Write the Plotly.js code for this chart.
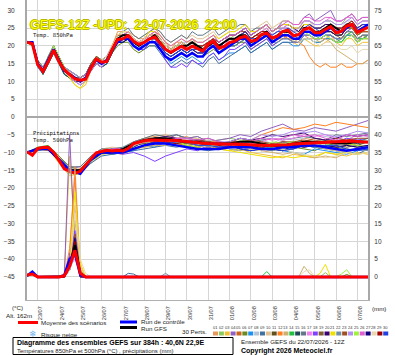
<!DOCTYPE html>
<html><head><meta charset="utf-8">
<script src="https://cdn.plot.ly/plotly-3.0.1.min.js"></script>
<style>html,body{margin:0;padding:0;background:#fff}#c{width:395px;height:355px}</style>
</head><body><div id="c"></div>
<script>
// ---------- DATA ----------
const runStartUTC = [2026, 6, 22, 12]; // 22/07/2026 12Z
const stepHours = 6;
const nSteps = 65;

const mean850 = [21.0,20.6,14.7,12.8,15.6, 18.8,15.6,13.3,11.9,10.7, 10.3,10.6,13.8,16.3,15.4, 15.6,19.0,21.8,22.0,22.9, 21.3,20.4,21.0,22.0,22.5, 20.8,19.0,18.2,19.0,19.9, 19.0,19.9,19.2,18.6,20.4, 21.3,19.4,19.8,20.9,21.3, 22.3,22.7,21.3,21.6,23.2, 23.6,22.2,22.7,24.1,24.4, 22.8,23.2,24.6,25.1,23.7, 23.7,24.6,25.4,23.7,24.1, 25.6,26.0,23.8,24.5,25.2];
const ctrl850 = [21,21,15,13,16, 19,16,13,12,11, 10,11,14,16,15, 16,19,21,22,22, 20,19,20,21,21, 19,17,16,17,18, 17,18,17,17,19, 20,18,19,20,21, 22,22,20,21,22, 23,21,22,23,23, 22,22,24,24,23, 23,24,25,24,24, 25,26,24,25,26];
const gfs850 = [21,21,15,13,16, 19,16,13,12,11, 10,11,14,16,15, 16,19,22,23,23, 21,20,21,22,23, 21,19,18,19,20, 20,21,20,19,20, 21,20,21,22,22, 23,23,21,22,23, 24,22,23,24,24, 23,23,25,25,24, 24,25,26,25,24, 26,26,24,25,25];

const p850_01 = [21,21,15,12,16, 20,16,13,13,11, 11,12,14,17,16, 16,20,24,24,24, 23,22,22,24,25, 23,21,19,21,21, 20,22,20,19,21, 21,20,20,20,21, 22,22,21,21,23, 23,22,22,22,23, 21,22,23,22,22, 22,22,23,21,22, 23,24,21,23,22];
const p850_02 = [21,20,14,13,15, 18,15,12,11,10, 9,10,13,15,14, 15,18,21,21,22, 20,19,20,21,21, 20,18,17,18,19, 19,20,20,20,21, 22,20,21,22,23, 24,25,23,24,25, 26,24,25,26,26, 25,25,27,27,26, 26,27,27,26,26, 28,28,26,27,27];
const p850_03 = [21,21,16,13,16, 19,15,12,11,9, 8,9,13,16,15, 16,19,22,23,23, 22,21,21,22,23, 21,20,19,20,21, 20,21,19,18,19, 21,19,19,21,22, 22,23,21,22,22, 23,21,22,23,22, 21,20,22,21,20, 20,21,22,21,20, 22,22,20,21,21];
const p850_04 = [21,21,15,14,16, 19,16,14,13,12, 11,12,14,16,15, 16,19,21,22,22, 21,20,21,23,23, 22,20,19,20,21, 20,21,20,20,21, 22,20,21,23,23, 24,25,23,24,25, 26,24,25,27,27, 26,26,28,29,27, 28,29,30,27,27, 28,29,27,28,28];
const p850_05 = [21,21,15,13,17, 20,17,14,12,11, 10,11,15,17,16, 17,20,23,23,24, 22,21,22,23,24, 22,20,19,20,21, 20,21,20,20,21, 22,20,21,22,22, 23,24,22,23,24, 25,23,24,25,25, 24,24,26,26,25, 25,26,26,25,25, 26,27,25,26,26];
const p850_06 = [21,20,15,12,15, 18,15,12,11,10, 10,11,13,15,14, 15,18,20,21,21, 19,18,19,20,20, 19,17,16,17,18, 17,18,17,17,18, 19,18,19,20,20, 21,21,19,20,21, 22,20,21,22,22, 21,21,22,22,21, 21,22,22,21,21, 23,23,21,22,22];
const p850_07 = [21,21,14,12,15, 18,15,12,11,10, 9,10,13,15,14, 15,18,21,21,22, 20,19,19,21,21, 19,17,15,16,17, 16,17,16,15,17, 18,16,17,18,18, 19,20,18,19,20, 21,19,20,21,21, 20,20,22,22,21, 21,22,22,21,21, 23,23,21,22,23];
const p850_08 = [21,21,15,13,16, 19,16,14,13,12, 11,12,15,17,16, 17,20,22,23,23, 22,21,22,23,23, 22,20,19,20,21, 21,22,21,21,22, 23,21,22,23,23, 24,24,22,23,24, 25,23,24,25,25, 24,24,26,26,25, 25,26,26,25,25, 27,27,25,26,26];
const p850_09 = [21,21,15,13,16, 19,16,13,12,11, 10,11,14,16,15, 16,19,21,22,22, 20,19,19,20,20, 18,16,14,15,16, 15,16,15,14,16, 17,15,16,17,18, 19,20,18,19,20, 21,19,20,21,21, 21,21,23,23,22, 22,23,23,22,22, 24,24,22,23,23];
const p850_10 = [21,21,16,14,16, 19,16,13,12,11, 10,11,14,16,16, 17,20,23,24,24, 23,22,23,24,25, 24,22,21,22,23, 22,23,22,22,23, 24,22,23,24,24, 25,26,24,25,26, 27,25,26,27,27, 26,26,27,27,25, 25,26,26,25,24, 26,26,24,25,25];
const p850_11 = [21,21,15,13,16, 19,16,13,12,11, 11,12,14,16,15, 16,19,22,22,23, 21,20,21,22,22, 21,19,18,19,20, 19,20,19,19,20, 21,19,20,21,21, 21,22,20,21,22, 23,21,22,23,23, 22,22,24,24,23, 23,24,24,23,23, 25,25,23,24,24];
const p850_12 = [21,21,15,13,16, 19,16,13,12,11, 10,11,14,16,15, 16,19,22,23,23, 22,21,22,23,23, 22,20,19,20,21, 20,21,20,20,21, 22,20,21,22,22, 23,24,22,23,24, 24,22,23,23,22, 22,21,20,17,15, 14,15,14,14,15, 14,14,15,15,16];
const p850_13 = [21,21,15,13,16, 19,16,14,12,11, 11,12,14,16,15, 16,19,22,22,22, 21,20,21,22,22, 21,19,18,19,20, 19,20,19,19,20, 21,19,20,21,21, 22,22,21,22,22, 23,21,22,23,23, 22,22,23,23,22, 21,22,21,19,18, 17,16,15,15,16];
const p850_14 = [21,21,15,13,17, 20,17,14,13,12, 11,12,15,17,16, 17,20,22,23,23, 22,21,21,22,23, 22,20,19,20,20, 20,21,20,20,21, 22,20,21,22,22, 23,23,21,22,23, 23,21,22,23,23, 22,22,24,24,23, 22,23,23,22,21, 23,24,22,22,23];
const p850_15 = [21,21,15,12,15, 18,15,12,11,10, 10,11,13,15,14, 15,18,21,21,22, 20,19,20,21,22, 20,18,17,18,19, 18,19,18,18,19, 20,18,19,20,20, 21,22,20,21,22, 23,21,22,23,23, 22,22,24,24,23, 23,24,24,23,23, 25,25,23,24,24];
const p850_16 = [21,21,16,14,17, 20,17,14,13,12, 11,12,15,17,16, 17,20,23,24,25, 23,22,23,24,25, 24,22,21,22,23, 22,24,23,23,24, 25,23,24,25,25, 26,26,24,25,25, 26,24,25,25,26, 25,24,26,26,25, 25,26,26,25,25, 26,26,25,26,26];
const p850_17 = [21,21,15,13,16, 19,16,13,11,10, 9,10,13,15,14, 16,19,22,22,23, 21,20,21,22,22, 21,19,18,19,19, 19,20,19,19,20, 21,19,20,22,22, 23,24,22,23,24, 25,23,24,25,26, 25,25,27,27,26, 26,27,28,27,27, 28,28,26,27,27];
const p850_18 = [21,21,15,13,16, 19,16,13,12,11, 10,11,14,16,15, 16,19,22,22,22, 20,19,19,21,21, 19,16,14,14,15, 14,16,15,15,17, 18,16,17,19,19, 20,21,19,20,21, 22,20,21,22,22, 21,21,23,23,22, 22,23,23,22,22, 24,25,23,24,24];
const p850_19 = [21,21,15,13,16, 19,16,13,12,11, 11,12,14,16,15, 16,19,22,23,23, 21,20,21,22,23, 21,19,18,19,20, 19,20,19,20,21, 22,20,21,22,22, 23,24,22,23,23, 24,22,23,23,24, 23,22,24,24,23, 23,24,24,23,22, 24,24,22,23,23];
const p850_20 = [21,21,15,13,16, 19,16,13,12,11, 10,11,14,16,15, 16,19,21,22,22, 21,20,21,22,22, 21,19,18,19,20, 20,21,20,20,21, 22,21,22,23,23, 24,25,23,24,25, 26,24,25,26,26, 25,24,26,26,25, 25,26,26,24,24, 26,26,24,25,25];
const p850_21 = [21,21,15,13,16, 19,16,13,11,9, 8,10,14,16,15, 16,20,23,24,24, 22,21,22,24,24, 23,21,20,21,22, 21,22,21,21,22, 23,22,23,24,24, 25,26,24,24,25, 26,24,25,26,26, 25,25,26,26,24, 24,25,25,23,23, 25,25,23,24,24];
const p850_22 = [21,21,15,13,16, 18,15,13,12,11, 10,11,14,15,15, 16,19,22,22,23, 21,20,21,22,22, 21,19,18,19,20, 19,19,18,18,19, 20,18,19,20,20, 21,22,20,21,22, 23,21,21,22,22, 21,21,23,23,22, 22,23,23,22,22, 24,24,22,23,23];
const p850_23 = [21,21,15,13,16, 19,16,13,12,11, 11,12,15,17,16, 17,20,23,23,24, 22,21,22,23,23, 22,20,19,20,21, 20,21,20,20,21, 22,21,22,23,23, 24,24,22,23,23, 24,22,23,24,24, 23,23,25,25,24, 24,25,25,24,23, 25,25,23,24,24];
const p850_24 = [21,21,15,13,16, 19,16,14,13,12, 11,12,14,16,15, 16,19,22,22,23, 21,20,20,21,22, 20,18,17,18,19, 18,19,18,18,19, 20,19,20,21,21, 22,23,21,22,23, 24,23,24,25,25, 24,25,27,27,26, 26,27,27,26,26, 27,28,26,27,27];
const p850_25 = [21,21,15,13,16, 20,17,14,12,11, 10,11,14,16,15, 16,19,22,22,23, 21,20,21,22,22, 21,19,18,19,20, 19,20,19,19,20, 21,19,20,21,21, 22,23,21,22,22, 23,22,22,23,23, 22,22,24,23,22, 22,23,22,21,21, 22,23,21,22,22];
const p850_26 = [21,21,15,13,16, 19,16,13,12,11, 10,11,14,16,15, 16,19,22,23,24, 22,21,22,23,24, 23,21,20,21,22, 21,22,21,21,22, 23,21,22,23,23, 24,25,23,24,25, 26,24,25,26,27, 26,26,28,28,27, 27,28,28,27,27, 28,29,27,28,28];
const p850_27 = [21,21,15,13,16, 19,16,13,12,11, 10,11,14,16,15, 16,19,21,21,22, 20,19,20,21,21, 20,18,17,18,19, 18,19,18,18,19, 20,19,20,21,21, 22,22,20,21,22, 23,21,22,23,23, 22,22,24,24,23, 23,24,24,23,23, 25,26,24,25,25];
const p850_28 = [21,21,15,13,16, 19,16,13,12,11, 10,11,14,16,16, 17,20,23,24,24, 22,21,22,23,23, 22,20,19,20,21, 20,21,20,20,21, 22,20,21,22,22, 23,23,21,22,23, 24,22,23,24,23, 22,21,22,22,21, 20,21,21,20,19, 19,20,18,19,19];
const p850_29 = [21,21,15,13,16, 19,16,13,12,11, 10,11,14,16,15, 16,19,22,22,23, 21,20,21,22,23, 21,19,18,19,20, 19,20,20,20,21, 22,20,21,22,22, 23,24,22,23,24, 24,22,23,24,24, 23,23,25,25,24, 24,25,26,25,25, 26,27,25,26,26];
const p850_30 = [21,21,15,13,16, 19,16,13,12,11, 10,11,14,16,15, 16,19,22,22,23, 21,20,21,22,22, 20,18,17,18,19, 18,19,19,18,20, 20,19,21,22,22, 23,24,22,22,23, 24,23,24,24,25, 24,23,25,26,25, 24,25,26,25,24, 25,26,25,26,26];

const mean500 = [-9.8,-10.8,-8.9,-8.6,-8.6, -9.9,-12.2,-14.6,-15.3,-15.8, -15.3,-13.6,-11.7,-10.1,-9.7, -9.4,-9.6,-9.4,-9.6,-8.9, -7.5,-7.0,-6.7,-6.5,-6.5, -6.4,-6.4,-6.5,-6.6,-6.8, -7.0,-7.1,-7.2,-7.4,-7.5, -7.6,-7.7,-7.8,-7.7,-7.6, -7.6,-7.7,-7.8,-7.9,-8.0, -8.0,-8.0,-7.9,-7.9,-7.8, -7.6,-7.5,-7.4,-7.3,-7.3, -7.2,-7.2,-7.1,-7.0,-6.9, -6.8,-6.8,-6.9,-7.0,-7.1];
// 12-hourly
const ctrl500 = [-10,-9,-9,-12,-15,-16,-12,-10,-10,-10,-9,-8,-7.5,-7.5,-8,-8.5,-9,-9,-9,-8.5,-8.5,-8.5,-9,-9,-8.5,-8.5,-8,-8,-8.5,-9,-9.5,-9,-8.5];
const gfs500 = [-10,-9,-9,-12,-15,-15,-12,-10,-10,-9,-7.5,-6.5,-6,-6,-6.5,-7,-7,-7.5,-7.5,-7.5,-7,-7,-7.5,-8,-8,-7.5,-7,-7,-7,-7.5,-7.5,-7,-7];

const p500_01 = [-10,-9.5,-8.5,-12,-15.5,-14.5,-11.5,-10,-9,-9.5,-7,-6,-5.5,-5,-6,-5.5,-7,-6.5,-8,-7.5,-7,-6.5,-8,-7.5,-7,-7.5,-6,-6.5,-7,-6.5,-8,-7.5,-7];
const p500_02 = [-10,-9,-9,-12.5,-16,-16,-12.5,-10.5,-10,-9,-8.5,-7,-6,-6.5,-5,-6,-5.5,-7,-6.5,-6,-6.5,-7,-7.5,-8,-8.5,-9,-8,-8.5,-7,-7.5,-6,-6.5,-7];
const p500_03 = [-10,-9,-9,-13,-16.5,-16,-13,-10.5,-10,-10.5,-9,-8.5,-8,-7,-7.5,-8,-8.5,-8,-9,-9.5,-9,-10,-10.5,-11,-11.5,-10.5,-11,-11.5,-10,-10.5,-11,-10,-10.5];
const p500_04 = [-10,-9,-9,-11.5,-14.5,-14,-11,-9,-9.5,-9,-7,-6.5,-6,-6.5,-5,-6,-5.5,-7,-6.5,-6,-5,-5.5,-4,-3,-2,-3.5,-4,-3,-3.5,-4,-3,-2,-1];
const p500_05 = [-10,-9,-9.5,-12,-15,-15.5,-12,-10,-10.5,-10,-9,-8,-7.5,-7,-7.5,-8,-8.5,-8,-9,-8,-8.5,-8,-9,-9.5,-8,-8.5,-7,-6,-6.5,-7,-7.5,-8,-8.5];
const p500_06 = [-10,-8.5,-8,-11,-14,-15,-12,-9.5,-9,-9.5,-8,-7,-6,-6.5,-6,-7,-7.5,-7,-8,-8.5,-8,-9,-9.5,-8.5,-8,-8.5,-9,-9.5,-8,-8.5,-9,-9.5,-8];
const p500_07 = [-10,-9,-9,-12.5,-15.5,-16,-12.5,-10,-10.5,-10,-9.5,-8,-8.5,-7,-7.5,-7,-8,-8.5,-8,-9,-9.5,-8.5,-8,-9,-9.5,-10,-10.5,-9,-9.5,-10,-10.5,-9.5,-9];
const p500_08 = [-10,-9,-9,-12,-14.5,-15,-12,-10,-9,-9,-8,-7.5,-6,-6.5,-6,-6.5,-7,-6.5,-7.5,-7,-6,-7,-6.5,-7.5,-6,-6.5,-6,-5,-5.5,-6,-6.5,-5,-5.5];
const p500_09 = [-10,-9.5,-9,-12,-15,-16,-13,-11,-10.5,-10,-9.5,-9,-8.5,-8,-8.5,-8,-9,-9.5,-9,-8,-8.5,-8,-8.5,-9,-9.5,-9,-8,-8.5,-9,-9.5,-10,-10.5,-9];
const p500_10 = [-10,-9,-9,-12,-15,-15,-11,-9,-8.5,-9,-7,-6,-5,-5.5,-6,-6.5,-6,-7,-7.5,-8,-8.5,-8,-9,-9.5,-9,-8,-8.5,-8,-9,-9.5,-10,-9,-9.5];
const p500_11 = [-10,-9,-9,-12,-15,-15,-12,-10,-10,-9,-8,-7.5,-7,-7.5,-7,-7,-8,-8.5,-8,-8,-8.5,-8,-7.5,-8,-8.5,-7,-7.5,-7,-7.5,-8,-8.5,-8,-7];
const p500_12 = [-10,-9,-9,-12,-15,-15,-12,-10,-9,-9.5,-8,-7,-6,-6.5,-6,-7,-7.5,-7,-7,-7.5,-6,-6.5,-5,-4,-3,-3.5,-3,-2,-2.5,-1.5,-2,-2.5,-3];
const p500_13 = [-10,-9,-9,-12,-15,-15,-12,-10,-10,-10,-9,-8.5,-8,-8,-7,-7.5,-8,-8.5,-8,-9,-9.5,-9,-9.5,-10,-10.5,-10,-11,-11.5,-11,-11.5,-10,-10.5,-10];
const p500_14 = [-10,-9,-9,-12,-15,-15,-12,-10,-9,-9,-8,-7,-6,-6,-7,-7.5,-7,-8,-8.5,-7,-7.5,-7,-8,-8.5,-7,-7.5,-7,-8,-8.5,-7,-7.5,-7,-6];
const p500_15 = [-10,-9,-9,-12,-15,-15,-12,-10,-10,-10,-8.5,-7,-7,-6,-6.5,-7,-7.5,-8,-8.5,-8,-7,-8,-8.5,-8,-8,-7,-7.5,-7,-7,-7.5,-7,-7.5,-7];
const p500_16 = [-10,-9,-9,-11.5,-14,-14,-11,-9,-9,-8.5,-7,-6,-5,-5.5,-5,-6,-6.5,-6,-7,-7.5,-7,-7,-6.5,-6,-6.5,-6,-5.5,-6,-6.5,-5,-5.5,-5,-4.5];
const p500_17 = [-10,-9,-9,-12,-15,-15,-12,-10,-10,-9,-8,-7,-7,-7.5,-7,-6.5,-7,-7.5,-8,-8.5,-7,-7.5,-7,-6,-6.5,-6,-5,-5.5,-5,-6,-6.5,-5,-5.5];
const p500_18 = [-10,-9,-9,-12,-15,-15,-12,-10,-10,-10.5,-10,-11,-12.5,-11,-10,-9,-9.5,-8,-8.5,-8,-8,-8.5,-8,-8,-7,-7.5,-7,-7.5,-7,-7,-6,-6.5,-6];
const p500_19 = [-10,-9,-9,-12,-15,-15,-12,-10,-10,-10,-9,-8,-7,-7.5,-7,-7.5,-8,-8.5,-8,-8.5,-8,-8.5,-8,-8,-8.5,-8,-8.5,-8,-8,-8.5,-8,-8.5,-8];
const p500_20 = [-10,-9,-9,-12,-15,-15,-12,-10,-9,-9,-8,-7,-6,-5.5,-6,-7,-6.5,-7,-7.5,-7,-6,-6.5,-6,-5,-5.5,-5,-4.5,-6,-6.5,-6,-5,-5.5,-5];
const p500_21 = [-10,-9,-9,-12,-15,-15,-12,-10,-10,-10,-8,-7,-7,-7.5,-7,-8,-8.5,-8,-9,-9.5,-10,-10.5,-11,-11.5,-11,-11.5,-11,-11,-10,-10.5,-10,-10.5,-10];
const p500_22 = [-10,-9,-9,-12,-15,-15,-12,-10,-10,-9,-8,-7,-7,-6,-6.5,-7,-7.5,-7,-8,-8.5,-8,-8.5,-9,-9.5,-9,-9,-8,-8.5,-8,-9,-9.5,-9,-9.5];
const p500_23 = [-10,-9,-9,-12,-15,-15,-12,-10,-10,-9,-8,-7,-7,-7.5,-7,-7,-6.5,-7,-7.5,-7,-7,-6.5,-7,-7.5,-7,-7,-6.5,-7,-7.5,-6,-6.5,-6,-6];
const p500_24 = [-10,-9,-9,-12,-15,-15,-12,-10,-9,-9,-8,-7,-6,-6.5,-6,-6,-7,-7.5,-7,-7,-6,-6.5,-5,-5.5,-5,-4,-4.5,-4,-5,-5.5,-5,-4,-4.5];
const p500_25 = [-10,-9,-9,-12,-15,-15,-12,-10,-10,-10,-9,-8,-7,-7.5,-7,-8,-8.5,-8,-8,-8.5,-8,-8,-8.5,-7,-7.5,-7,-8,-8.5,-8,-7,-7.5,-8,-8.5];
const p500_26 = [-10,-9,-9,-12,-15,-15,-12,-10,-9,-9,-8,-7,-6,-6.5,-6,-6,-6.5,-6,-7,-7.5,-7,-7,-6,-6.5,-6,-5,-5.5,-5,-6,-6.5,-5,-5.5,-5];
const p500_27 = [-10,-9,-9,-12,-15,-15,-12,-10,-10,-10,-9,-8,-7,-7.5,-7,-7,-8,-8.5,-8,-8,-9,-9.5,-9,-9,-9.5,-8,-8.5,-8,-8,-8.5,-8,-8.5,-8];
const p500_28 = [-10,-9,-9,-12,-15,-15,-12,-10,-10,-9,-8,-7,-7,-7.5,-7,-7,-8,-8.5,-8,-8,-8.5,-9,-9.5,-9,-9,-10,-10.5,-11,-11.5,-11,-10,-10.5,-10];
const p500_29 = [-10,-9,-9,-12,-15,-15,-12,-10,-10,-10,-9,-8,-7,-7,-7.5,-7,-7,-7.5,-8,-8.5,-8,-8,-8.5,-8,-8,-8.5,-7,-7.5,-7,-7,-7.5,-7,-7];
const p500_30 = [-10,-9,-9,-12,-15,-16,-12,-10,-10,-10,-9,-8,-7,-7.5,-7,-7,-8,-8,-8.5,-8,-9,-9.5,-9,-9,-9.5,-9,-8,-8.5,-8,-8,-9,-9.5,-9];

// precipitation (mm / 6h)
const meanP = [0.5,0.8,0,0,0, 0,0,0.3,3.0,7.5, 1.0,0,0,0,0, 0,0,0,0,0, 0,0,0,0,0, 0,0,0,0,0, 0,0,0,0,0, 0,0,0,0,0, 0,0,0,0,0, 0,0,0,0,0, 0,0,0,0,0, 0,0,0,0,0, 0,0,0,0,0];
const ctrlP = [0.3,1.5,0,0,0, 0,0,0.5,5.0,6.5, 0.5,0,0,0,0, 0,0,0,0,0, 0,0,0,0,0, 0,0,0,0,0, 0,0,0,0,0, 0,0,0,0,0, 0,0,0,0,0, 0,0,0,0,0, 0,0,0,0,0, 0,0,0,0,0, 0,0,0,0,0];
const gfsP = [0.3,1.0,0,0,0, 0,0,0.2,3.0,9.0, 1.0,0,0,0,0, 0,0,0,0,0, 0,0,0,0,0, 0,0,0,0,0, 0,0,0,0,0, 0,0,0,0,0, 0,0,0,0,0, 0,0,0,0,0, 0,0,0,0,0, 0,0,0,0,0, 0,0,0,0,0];
const rainWindow = [6, 12]; // 24/07 00Z .. 25/07 12Z
const pp01=[0,0,6,31,2,0,0], pp02=[0,0,4,9,1,0,0], pp03=[0,0,34,12,0,0,0], pp04=[0,0,40,8,0,0,0], pp05=[0,0,3,11,1,0,0],
      pp06=[0,0,5,8,0,0,0], pp07=[0,0,2,10,2,0,0], pp08=[0,0,3,7,1,0,0], pp09=[0,0,6,12,1,0,0], pp10=[0,0,2,20,3,0,0],
      pp11=[0,0,4,9,0,0,0], pp12=[0,0,8,28,1,0,0], pp13=[0,0,5,16,2,0,0], pp14=[0,0,3,6,1,0,0], pp15=[0,0,2,8,0,0,0],
      pp16=[0,0,4,11,1,0,0], pp17=[0,0,3,5,1,0,0], pp18=[0,0,6,13,1,0,0], pp19=[0,0,2,9,1,0,0], pp20=[0,0,5,10,0,0,0],
      pp21=[0,0,3,24,4,0,0], pp22=[0,0,2,7,1,0,0], pp23=[0,0,4,12,1,0,0], pp24=[0,0,2,6,0,0,0], pp25=[0,0,3,8,1,0,0],
      pp26=[0,0,5,9,1,0,0], pp27=[0,0,3,11,1,0,0], pp28=[0,0,2,18,5,1,0], pp29=[0,0,4,10,0,0,0], pp30=[0,0,3,7,1,0,0];
// small later showers: step indices, values, member number
const bumpIdx = [[44,45,46],[51,52,53,54],[54,55,56,57],[58,59,60,61],[51,52,53,54],[18,19,20,21],[25,26,27],[59,60,61],[55,56,57]];
const bumpVal = [[0,1.5,0],[0,3,1,0],[0,1,3.5,0],[0,0.8,2,0],[0,1.5,2,0],[0,1,0.8,0],[0,1,0],[0,0.7,0],[0,1.2,0]];
const bumpMember = [14,13,21,25,28,9,22,6,2];

const pertColors = ['#e8985a','#8cc860','#f0c030','#9060c0','#c86420','#6a8a20','#2090f0','#b4c4d4','#4070a0','#e0c090',
  '#605020','#ff7f20','#d0b070','#20c040','#204858','#607888','#f080f0','#8040ff','#806030','#380070',
  '#f0e000','#7090a8','#a05020','#b090f0','#a0f040','#e060d0','#100080','#e8d8b0','#a00000','#2040e0'];

const yTicks = [-45,-40,-35,-30,-25,-20,-15,-10,-5,0,5,10,15,20,25,30];
const y2Ticks = [0,5,10,15,20,25,30,35,40,45,50,55,60,65,70,75];

// ---------- BUILD ----------
const pad = n => String(n).padStart(2,'0');
const t0 = Date.UTC(runStartUTC[0], runStartUTC[1], runStartUTC[2], runStartUTC[3]);
const t6 = Array.from({length:nSteps}, (_,i) => { const d = new Date(t0 + i*stepHours*3600e3);
  return d.getUTCFullYear()+'-'+pad(d.getUTCMonth()+1)+'-'+pad(d.getUTCDate())+' '+pad(d.getUTCHours())+':00'; });
const t12 = t6.filter((_,i) => i%2===0);
const tWin = t6.slice(rainWindow[0], rainWindow[1]+1);

const perts850 = [p850_01,p850_02,p850_03,p850_04,p850_05,p850_06,p850_07,p850_08,p850_09,p850_10,p850_11,p850_12,p850_13,p850_14,p850_15,p850_16,p850_17,p850_18,p850_19,p850_20,p850_21,p850_22,p850_23,p850_24,p850_25,p850_26,p850_27,p850_28,p850_29,p850_30];
const perts500 = [p500_01,p500_02,p500_03,p500_04,p500_05,p500_06,p500_07,p500_08,p500_09,p500_10,p500_11,p500_12,p500_13,p500_14,p500_15,p500_16,p500_17,p500_18,p500_19,p500_20,p500_21,p500_22,p500_23,p500_24,p500_25,p500_26,p500_27,p500_28,p500_29,p500_30];
const pertsP = [pp01,pp02,pp03,pp04,pp05,pp06,pp07,pp08,pp09,pp10,pp11,pp12,pp13,pp14,pp15,pp16,pp17,pp18,pp19,pp20,pp21,pp22,pp23,pp24,pp25,pp26,pp27,pp28,pp29,pp30];

const traces = [];
const thin = (x, y, c, ax) => ({x, y, type:'scatter', mode:'lines', yaxis:ax||'y', hoverinfo:'skip',
  line:{color:c, width:1}});
pertsP.forEach((v,k) => traces.push(thin(tWin, v, pertColors[k], 'y2')));
bumpIdx.forEach((ix,k) => traces.push(thin(ix.map(i=>t6[i]), bumpVal[k], pertColors[bumpMember[k]-1], 'y2')));
perts850.forEach((v,k) => traces.push(thin(t6, v, pertColors[k])));
perts500.forEach((v,k) => traces.push(thin(t12, v, pertColors[k])));

const thick = (x, y, c, w, ax) => ({x, y, type:'scatter', mode:'lines', yaxis:ax||'y', hoverinfo:'skip',
  line:{color:c, width:w}});
traces.push(thick(t6, gfsP, '#000000', 2, 'y2'));
traces.push(thick(t6, ctrlP, '#0000ff', 2.5, 'y2'));
traces.push(thick(t6, meanP, '#ff0000', 3, 'y2'));
traces.push(thick(t6, gfs850, '#000000', 2));
traces.push(thick(t6, ctrl850, '#0000ff', 2.5));
traces.push(thick(t6, mean850, '#ff0000', 3));
traces.push(thick(t12, gfs500, '#000000', 2));
traces.push(thick(t12, ctrl500, '#0000ff', 2.5));
traces.push(thick(t6, mean500, '#ff0000', 3));

// ---------- LAYOUT ----------
const L = 27, R = 368, T = 0, B = 300;
const PX = x => (x - L)/(R - L);
const PY = y => (B - y)/(B - T);
const small = {family:'Liberation Sans, Arial, sans-serif', size:6.2, color:'#222'};
const ann = (x, y, text, font, extra) => Object.assign({xref:'paper', yref:'paper', x:PX(x), y:PY(y), text,
  showarrow:false, xanchor:'left', yanchor:'middle', borderpad:0, font}, extra||{});

const annotations = [
  ann(29, 25, 'GEFS-12Z -UPD:  22-07-2026  22:00', {family:'Liberation Sans, Arial, sans-serif', size:12.5, color:'#ffff00',
     shadow:'1px 0 0 #b8b800, -1px 0 0 #b8b800, 0 1px 0 #b8b800, 0 -1px 0 #b8b800'}),
  ann(32, 35, 'Temp. 850hPa', {family:'DejaVu Sans Mono, monospace', size:5.5, color:'#111'}),
  ann(32, 133.5, 'Précipitations', {family:'DejaVu Sans Mono, monospace', size:5.5, color:'#111'}),
  ann(32, 140.5, 'Temp. 500hPa', {family:'DejaVu Sans Mono, monospace', size:5.5, color:'#111'}),
  ann(11, 307, '(°C)', small),
  ann(5, 316, 'Alt. 162m', small),
  ann(371, 308, '(mm)', small),
  ann(40, 322.5, 'Moyenne des scénarios', small),
  ann(140, 321.2, 'Run de contrôle', small),
  ann(140, 328.6, 'Run GFS', small),
  ann(181, 331.8, '30 Perts.', small),
  ann(28, 333.5, '❄', {family:'DejaVu Sans', size:9, color:'#6ab0f0'}),
  ann(40, 334, 'Risque neige', small),
  ann(16, 342.5, 'Diagramme des ensembles GEFS sur 384h : 40,6N 22,9E', {family:'Liberation Sans, Arial, sans-serif', size:7, color:'#000', weight:'bold'}),
  ann(16, 350.5, 'Températures 850hPa et 500hPa (°C) , précipitations (mm)', {family:'Liberation Sans, Arial, sans-serif', size:6, color:'#222'}),
  ann(240, 341, 'Ensemble GEFS du 22/07/2026 - 12Z', small),
  ann(240, 350.5, 'Copyright 2026 Meteociel.fr', {family:'Liberation Sans, Arial, sans-serif', size:7, color:'#000', weight:'bold'})
];
const shapes = [
  {type:'line', xref:'paper', yref:'paper', x0:PX(18), x1:PX(38), y0:PY(322.5), y1:PY(322.5), line:{color:'#ff0000', width:3}},
  {type:'line', xref:'paper', yref:'paper', x0:PX(120), x1:PX(137), y0:PY(322), y1:PY(322), line:{color:'#0000ff', width:3}},
  {type:'line', xref:'paper', yref:'paper', x0:PX(120), x1:PX(137), y0:PY(327.5), y1:PY(327.5), line:{color:'#000000', width:3}},
  {type:'rect', xref:'paper', yref:'paper', x0:PX(13), x1:PX(233), y0:PY(337.5), y1:PY(354.5), line:{color:'#000', width:1}, fillcolor:'rgba(0,0,0,0)'}
];
pertColors.forEach((c,k) => {
  const x0 = 213 + k*5.87;
  shapes.push({type:'rect', xref:'paper', yref:'paper', x0:PX(x0), x1:PX(x0+5), y0:PY(335.5), y1:PY(331.5), line:{width:0}, fillcolor:c});
  annotations.push({xref:'paper', yref:'paper', x:PX(x0+2.5), y:PY(327.5), text:pad(k+1), showarrow:false, borderpad:0,
    xanchor:'center', yanchor:'middle', font:{family:'Liberation Sans, Arial, sans-serif', size:4, color:'#333'}});
});

const tickFont = {family:'Liberation Sans, Arial, sans-serif', size:6.5, color:'#333'};
const layout = {
  width:395, height:355, margin:{l:L, r:395-R, t:T, b:355-B},
  paper_bgcolor:'#ffffff', plot_bgcolor:'#ffffff', showlegend:false,
  xaxis:{type:'date', range:[t6[0], t6[nSteps-1]], tick0:'2026-07-23', dtick:86400000, tickformat:'%d/%m',
    tickangle:-90, showgrid:true, gridcolor:'#d6d6d6', gridwidth:1, showline:true, linecolor:'#b0b0b0', linewidth:1,
    ticks:'', tickfont:{family:'Liberation Sans, Arial, sans-serif', size:5.6, color:'#333'}, ticklabelshift:3, ticklabelstandoff:3, zeroline:false, fixedrange:true},
  yaxis:{range:[-51.5, 32.9], tickvals:yTicks, showgrid:true, gridcolor:'#d6d6d6', gridwidth:1,
    zeroline:true, zerolinecolor:'#a8a8a8', zerolinewidth:2, showline:true, linecolor:'#a8a8a8', linewidth:2,
    ticks:'', tickfont:tickFont, ticklabelstandoff:9, fixedrange:true},
  yaxis2:{overlaying:'y', side:'right', range:[-6.5, 77.9], tickvals:y2Ticks, showgrid:false, zeroline:false,
    showline:true, linecolor:'#a8a8a8', linewidth:2, ticks:'', tickfont:tickFont, ticklabelstandoff:3, fixedrange:true},
  annotations, shapes
};
Plotly.newPlot('c', traces, layout, {staticPlot:true, displayModeBar:false});
</script></body></html>
